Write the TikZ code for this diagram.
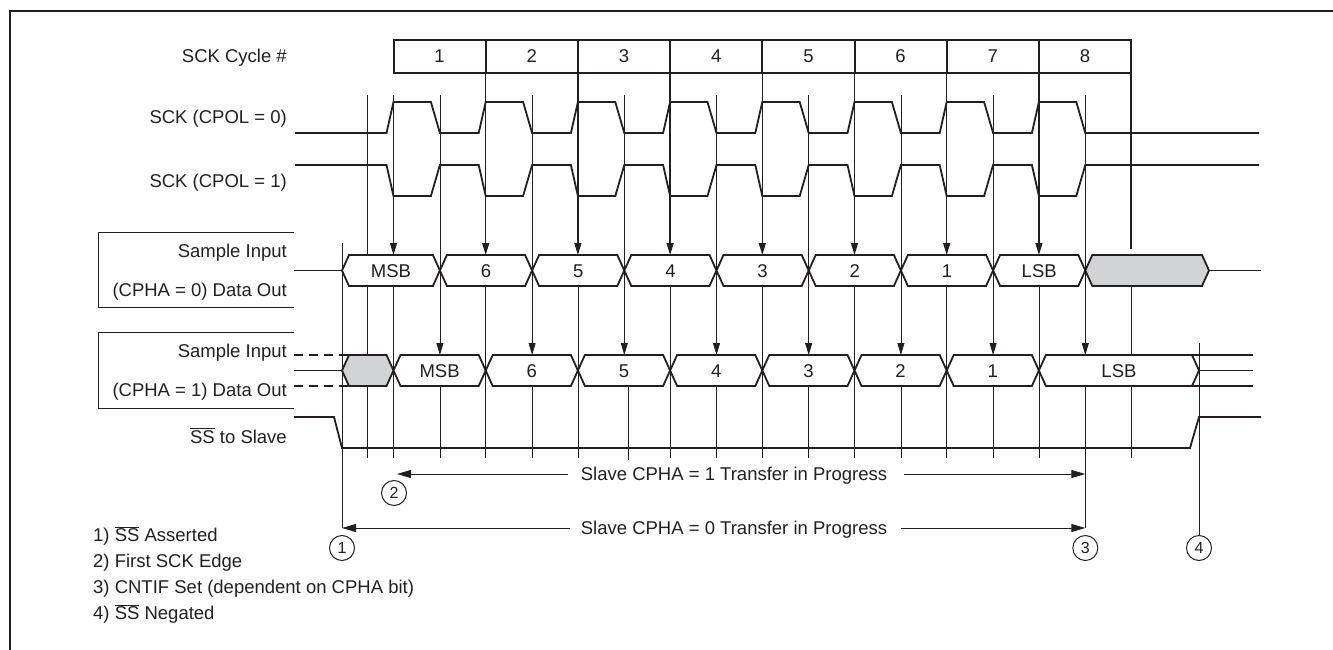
\documentclass[tikz,border=0pt]{standalone}
\usepackage{fontspec}
\setmainfont{Liberation Sans}
\usetikzlibrary{arrows.meta}
\definecolor{ink}{HTML}{231F20}
\definecolor{shade}{HTML}{D1D3D4}
\newcommand\datacell[7]{% #1 left x, #2 right x, #3 top y, #4 bottom y, #5 fill, #6 label, #7 name
  \filldraw[draw=ink, line width=1.8pt, fill=#5, line join=miter]
    (#1,{(#3+#4)/2}) -- ({#1+7},#3) -- ({#2-7},#3) -- (#2,{(#3+#4)/2})
    -- ({#2-7},#4) -- ({#1+7},#4) -- cycle;
  \node[anchor=base] (#7) at ({(#1+#2)/2},{(#3+#4)/2+6.6}) {#6};
}
\begin{document}
\begin{tikzpicture}[x=1pt,y=-1pt,
  every node/.style={font=\fontsize{18.5pt}{22pt}\selectfont, text=ink, inner sep=0pt},
  wave/.style={draw=ink, line width=1.8pt, line join=miter},
  thinline/.style={draw=ink, line width=0.8pt},
  bline/.style={draw=ink, line width=1.3pt},
  darrow/.style={-{Triangle[length=12pt,width=7pt]}},
  harrow/.style={draw=ink, line width=1pt, -{Triangle[length=14pt,width=8pt]}},
  numcirc/.style={circle, draw=ink, line width=1pt, minimum size=25pt, font=\fontsize{16pt}{18pt}\selectfont},
  lbl/.style={anchor=base east},
  legend/.style={anchor=base west}]
\path[use as bounding box] (0,0) rectangle (1333,650);
% frame
\draw[ink, line width=2pt] (10,650) -- (10,11) -- (1333,11);

% left labels
\node[lbl] (lcyc) at (287,62.6) {SCK Cycle \#};
\node[lbl] (lcp0) at (287,123.4) {SCK (CPOL = 0)};
\node[lbl] (lcp1) at (287,187.6) {SCK (CPOL = 1)};
\node[lbl] (ls0) at (287,257.8) {Sample Input};
\node[lbl] (ld0) at (287,296) {(CPHA = 0) Data Out};
\node[lbl] (ls1) at (287,357.6) {Sample Input};
\node[lbl] (ld1) at (287,396.6) {(CPHA = 1) Data Out};
\node[lbl] (lss) at (287,443) {$\overline{\hbox{SS}}$ to Slave};
\draw[ink, line width=1pt] (294,232) -- (98,232) -- (98,307) -- (294,307);
\draw[ink, line width=1pt] (294,332) -- (98,332) -- (98,408) -- (294,408);

% vertical timing lines (behind everything)
\draw[thinline] (342,243) -- (342,528);
\draw[thinline] (367,95) -- (367,458);
\draw[thinline, darrow] (393.5,95) -- (393.5,255);
\draw[thinline] (393.5,286) -- (393.5,458);
\foreach \k in {2,...,8} {
  \pgfmathsetmacro{\b}{393.5+92.2*(\k-1)}
  \draw[bline, darrow] (\b,73) -- (\b,255);
  \draw[thinline] (\b,286) -- (\b,458);
}
\draw[bline] (1131.1,73) -- (1131.1,249);
\draw[thinline] (1131.1,286) -- (1131.1,458);
\foreach \k in {1,...,8} {
  \pgfmathsetmacro{\m}{393.5+92.2*(\k-1)+46.4}
  \draw[thinline, darrow] (\m,95) -- (\m,355);
}
\foreach \k in {1,2,4,5,6,7} {
  \pgfmathsetmacro{\m}{393.5+92.2*(\k-1)+46.4}
  \draw[thinline] (\m,386) -- (\m,458);
}
\draw[thinline] (628,386) -- (628,460);

% cycle number boxes
\draw[ink, line width=2pt] (393.5,40) rectangle (1131.1,73);
\foreach \k in {1,...,8} {
  \pgfmathsetmacro{\b}{393.5+92.2*(\k-1)}
  \pgfmathsetmacro{\c}{\b+46.1}
  \draw[ink, line width=2pt] (\b,40) -- (\b,73);
  \node[anchor=base] (cyc\k) at (\c,62.6) {\k};
}

% SCK waveforms
\draw[wave] (295,133) foreach \k in {1,...,8} {
  -- ({393.5+92.2*(\k-1)-7},133) -- ({393.5+92.2*(\k-1)},102)
  -- ({393.5+92.2*(\k-1)+46.4-9},102) -- ({393.5+92.2*(\k-1)+46.4},133) } -- (1259,133);
\draw[wave] (295,165) foreach \k in {1,...,8} {
  -- ({393.5+92.2*(\k-1)-7},165) -- ({393.5+92.2*(\k-1)},196)
  -- ({393.5+92.2*(\k-1)+46.4-9},196) -- ({393.5+92.2*(\k-1)+46.4},165) } -- (1259,165);

% CPHA = 0 data row
\draw[wave] (294,270.5) -- (342,270.5);
\foreach \k/\t in {1/MSB,2/6,3/5,4/4,5/3,6/2,7/1,8/LSB} {
  \pgfmathsetmacro{\a}{\k==1 ? 342 : 393.5+92.2*(\k-2)+46.4}
  \pgfmathsetmacro{\c}{393.5+92.2*(\k-1)+46.4}
  \datacell{\a}{\c}{255}{286}{white}{\t}{da\k}
}
\datacell{1085.3}{1209}{255}{286}{shade}{}{da9}
\draw[wave] (1209,270.5) -- (1261,270.5);

% CPHA = 1 data row
\draw[wave] (294,370.5) -- (342,370.5);
\draw[wave, dash pattern=on 9pt off 6pt] (294,355) -- (349,355);
\draw[wave, dash pattern=on 9pt off 6pt] (294,386) -- (349,386);
\datacell{342}{393.5}{355}{386}{shade}{}{db0}
\foreach \k/\t in {1/MSB,2/6,3/5,4/4,5/3,6/2,7/1} {
  \pgfmathsetmacro{\a}{393.5+92.2*(\k-1)}
  \pgfmathsetmacro{\c}{\a+92.2}
  \datacell{\a}{\c}{355}{386}{white}{\t}{db\k}
}
\datacell{1038.9}{1199}{355}{386}{white}{LSB}{db8}
\draw[wave] (1192,355) -- (1253,355);
\draw[wave] (1199,370.5) -- (1253,370.5);
\draw[wave] (1192,386) -- (1253,386);

% SS line
\draw[wave] (294,417) -- (334,417) -- (342,448) -- (1190,448) -- (1199,417) -- (1261,417);

% numbered circles
\node[numcirc] (c1) at (342,548) {1};
\node[numcirc] (c2) at (394,493) {2};
\node[numcirc] (c3) at (1085.3,548) {3};
\node[numcirc] (c4) at (1199,548) {4};
\draw[thinline] (1199,343) -- (c4.north);
\draw[thinline] (1085.3,386) -- (1085.3,528);

% transfer arrows
\coordinate (t1l) at (397,474);
\coordinate (t1r) at (1085.3,474);
\coordinate (t0l) at (342,528);
\coordinate (t0r) at (1085.3,528);
\node[anchor=base] (t1) at (734,480.6) {Slave CPHA = 1 Transfer in Progress};
\node[anchor=base] (t0) at (734,534.6) {Slave CPHA = 0 Transfer in Progress};
\draw[harrow] ([xshift=-13pt]t1.west |- t1l) -- (t1l);
\draw[harrow] ([xshift=17pt]t1.east |- t1r) -- (t1r);
\draw[harrow] ([xshift=-11pt]t0.west |- t0l) -- (t0l);
\draw[harrow] ([xshift=14pt]t0.east |- t0r) -- (t0r);

% legend
\node[legend] (lg1) at (93,541.6) {1) $\overline{\hbox{SS}}$ Asserted};
\node[legend] (lg2) at (93,567.6) {2) First SCK Edge};
\node[legend] (lg3) at (93,593.6) {3) CNTIF Set (dependent on CPHA bit)};
\node[legend] (lg4) at (93,619.6) {4) $\overline{\hbox{SS}}$ Negated};
\end{tikzpicture}
\end{document}
